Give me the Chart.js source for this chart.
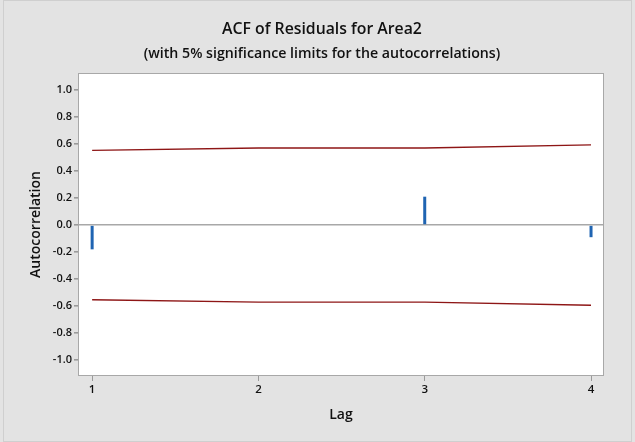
<!DOCTYPE html>
<html>
<head>
<meta charset="utf-8">
<script src="https://cdn.jsdelivr.net/npm/chart.js@4.4.1/dist/chart.umd.min.js"></script>
<style>
  html, body { margin: 0; padding: 0; background: #e3e3e3; }
  #wrap { width: 635px; height: 442px; position: relative; }
</style>
</head>
<body>
<div id="wrap"><canvas id="acf" width="635" height="442"></canvas></div>
<script>
// Lags and residual autocorrelations
const lags = [1, 2, 3, 4];
const acfValues = [-0.18, 0.0, 0.21, -0.09];
// 5% significance limits
const upperLimit = [0.553, 0.571, 0.571, 0.594];
const lowerLimit = [-0.553, -0.571, -0.571, -0.594];
// Axis ticks
const xTicks = [1, 2, 3, 4];
const yTicks = [-1.0, -0.8, -0.6, -0.4, -0.2, 0.0, 0.2, 0.4, 0.6, 0.8, 1.0];

const FONT = "'Open Sans', 'DejaVu Sans', sans-serif";
const AREA = { left: 78, right: 604, top: 73, bottom: 376 };
const TITLE_BOX = { left: 40, right: 604 };

const framePlugin = {
  id: 'frame',
  afterLayout(chart) {
    // center the heading lines over a slightly right-shifted band
    chart.boxes.forEach(b => {
      if (b.position === 'top') {
        b.left = TITLE_BOX.left;
        b.right = TITLE_BOX.right;
        b.width = TITLE_BOX.right - TITLE_BOX.left;
      }
    });
  },
  beforeDraw(chart) {
    const { ctx, chartArea: a } = chart;
    ctx.save();
    ctx.fillStyle = '#e3e3e3';
    ctx.fillRect(0, 0, chart.width, chart.height);
    ctx.strokeStyle = '#cfcfcf';
    ctx.lineWidth = 1;
    ctx.strokeRect(3.5, 0.5, chart.width - 7, chart.height - 1);
    ctx.fillStyle = '#ffffff';
    ctx.fillRect(a.left, a.top, a.right - a.left, a.bottom - a.top);
    ctx.restore();
  },
  afterDraw(chart) {
    const { ctx, chartArea: a } = chart;
    ctx.save();
    ctx.strokeStyle = '#a8a8a8';
    ctx.lineWidth = 1;
    ctx.strokeRect(a.left + 0.5, a.top + 0.5, a.right - a.left - 1, a.bottom - a.top - 1);
    ctx.restore();
  }
};

const toPoints = arr => lags.map((l, i) => ({ x: l, y: arr[i] }));

new Chart(document.getElementById('acf'), {
  type: 'bar',
  data: {
    datasets: [
      {
        type: 'line',
        label: 'Upper limit',
        data: toPoints(upperLimit),
        borderColor: '#8e1616',
        borderWidth: 1.4,
        pointRadius: 0,
        tension: 0,
        order: 1
      },
      {
        type: 'line',
        label: 'Lower limit',
        data: toPoints(lowerLimit),
        borderColor: '#8e1616',
        borderWidth: 1.4,
        pointRadius: 0,
        tension: 0,
        order: 1
      },
      {
        type: 'bar',
        label: 'ACF',
        data: toPoints(acfValues),
        backgroundColor: '#1f64b2',
        barThickness: 3,
        borderWidth: 0,
        inflateAmount: 0,
        order: 2
      }
    ]
  },
  options: {
    responsive: false,
    animation: false,
    devicePixelRatio: 1,
    layout: { padding: { left: 0, right: 635 - AREA.right, top: 0, bottom: 0 } },
    plugins: {
      legend: { display: false },
      tooltip: { enabled: false },
      title: {
        display: true,
        text: 'ACF of Residuals for Area2',
        color: '#111',
        font: { family: FONT, size: 15.8, weight: '600', lineHeight: 1.2 },
        padding: { top: 20, bottom: 6 }
      },
      subtitle: {
        display: true,
        text: '(with 5% significance limits for the autocorrelations)',
        color: '#111',
        font: { family: FONT, size: 14.2, weight: '600', lineHeight: 1.2 },
        padding: { top: 0, bottom: 11 }
      }
    },
    scales: {
      x: {
        type: 'linear',
        min: 0.915,
        max: 4.078,
        offset: false,
        afterBuildTicks(scale) { scale.ticks = xTicks.map(v => ({ value: v })); },
        afterFit(scale) { scale.height = 442 - AREA.bottom; },
        grid: {
          offset: false,
          drawOnChartArea: false,
          drawTicks: true,
          tickLength: 5,
          tickColor: '#9a9a9a'
        },
        border: { display: false },
        ticks: {
          color: '#111',
          padding: 2,
          maxRotation: 0,
          font: { family: FONT, size: 11.5, weight: '600' },
          callback: v => String(v)
        },
        title: {
          display: true,
          text: 'Lag',
          color: '#111',
          font: { family: FONT, size: 14, weight: '600', lineHeight: 1.2 },
          padding: { top: 0, bottom: 19 }
        }
      },
      y: {
        type: 'linear',
        min: -1.118,
        max: 1.126,
        afterBuildTicks(scale) { scale.ticks = yTicks.map(v => ({ value: v })); },
        afterFit(scale) { scale.width = AREA.left; },
        grid: {
          offset: false,
          drawOnChartArea: true,
          drawTicks: true,
          tickLength: 4,
          tickColor: '#9a9a9a',
          lineWidth: 1.6,
          color: c => (c.tick && Math.abs(c.tick.value) < 1e-9 ? '#a8a8a8' : 'rgba(0,0,0,0)')
        },
        border: { display: false },
        ticks: {
          color: '#111',
          padding: 2,
          font: { family: FONT, size: 11, weight: '600' },
          callback: v => Number(v).toFixed(1)
        },
        title: {
          display: true,
          text: 'Autocorrelation',
          color: '#111',
          font: { family: FONT, size: 14, weight: '600', lineHeight: 1.2 },
          padding: { top: 28, bottom: 0 }
        }
      }
    }
  },
  plugins: [framePlugin]
});
</script>
</body>
</html>
